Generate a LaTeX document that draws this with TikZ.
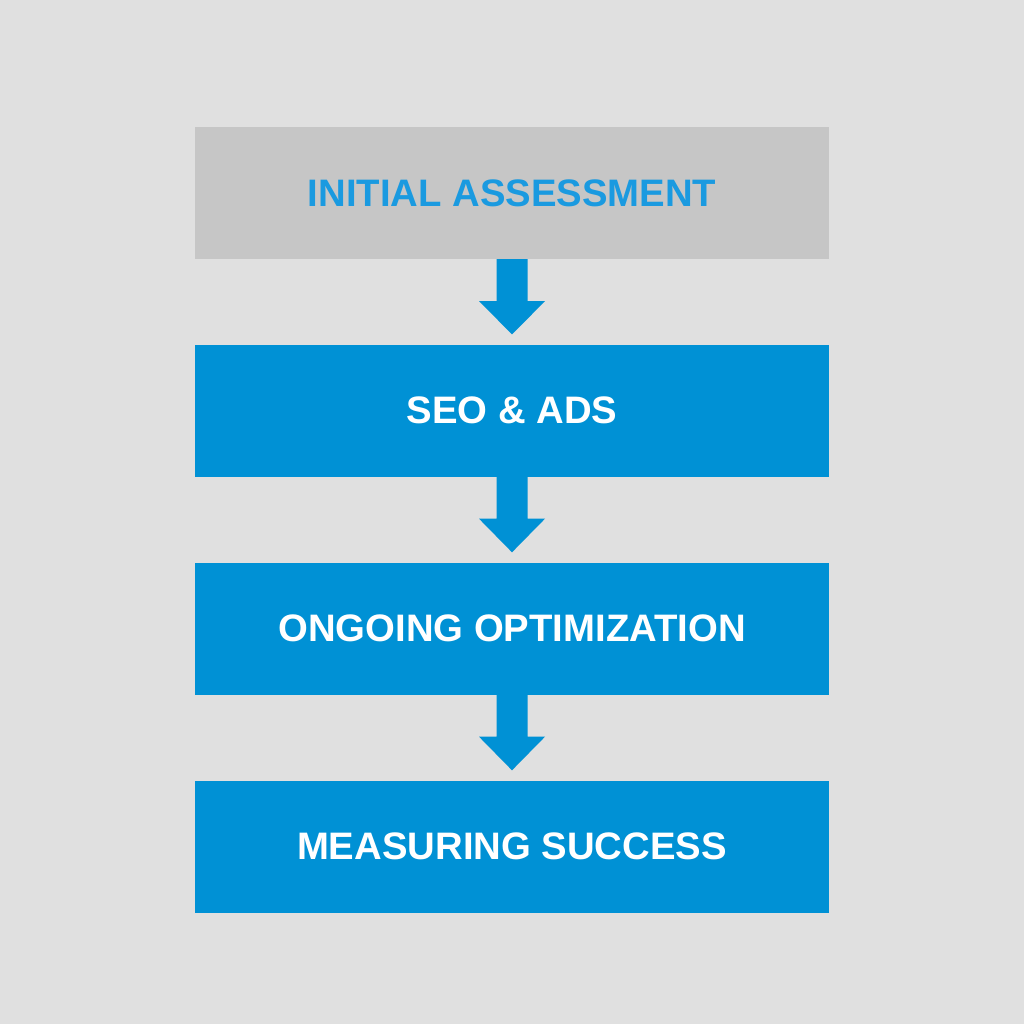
\documentclass[tikz,border=0pt]{standalone}
\usepackage{fontspec}
\setmainfont{Liberation Sans}
\usetikzlibrary{calc}
\definecolor{bg}{HTML}{E0E0E0}
\definecolor{boxblue}{HTML}{0091D5}
\definecolor{boxgray}{HTML}{C6C6C6}
\definecolor{txtblue}{HTML}{1A9AE0}
\tikzset{
  stage/.style={minimum width=634pt, minimum height=132pt, inner sep=0pt, font=\fontsize{38.3}{42}\selectfont\bfseries, text=white, fill=boxblue},
  firststage/.style={stage, fill=boxgray, text=txtblue},
}
\newcommand{\flowarrow}[2]{%
  \fill[boxblue] ($(#1.south)+(-15.5,0)$) -- ($(#1.south)+(15.5,0)$) -- ($(#1.south)+(15.5,42)$) -- ($(#1.south)+(33,42)$) -- ($(#2.north)+(0,-10)$) -- ($(#1.south)+(-33,42)$) -- ($(#1.south)+(-15.5,42)$) -- cycle;}
\begin{document}
\begin{tikzpicture}[x=1pt,y=-1pt]
\fill[bg] (0,0) rectangle (1024,1024);
\useasboundingbox (0,0) rectangle (1024,1024);
\node[firststage] (s1) at (512,193) {INITIAL ASSESSMENT};
\node[stage] (s2) at (512,410.5) {SEO \& ADS};
\node[stage] (s3) at (512,628.5) {ONGOING OPTIMIZATION};
\node[stage] (s4) at (512,846.5) {MEASURING SUCCESS};
\flowarrow{s1}{s2}
\flowarrow{s2}{s3}
\flowarrow{s3}{s4}
\end{tikzpicture}
\end{document}
